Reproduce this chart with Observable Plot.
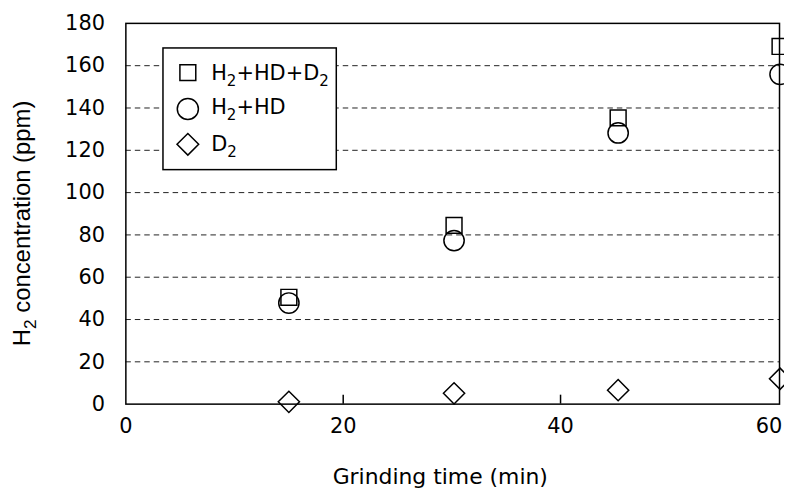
<!DOCTYPE html>
<html><head><meta charset="utf-8">
<script src="https://cdn.jsdelivr.net/npm/d3@7"></script>
<script src="https://cdn.jsdelivr.net/npm/@observablehq/plot@0.6"></script>
<style>
body{margin:0;background:#fff}
#chart{width:784px;height:491px;overflow:hidden}
</style>
</head><body><div id="chart"></div>
<script>
// ---- data ----
const times = [15, 30.2, 45.3, 60.2];
const totalH = [50.5, 84.5, 135.3, 169.1];   // H2+HD+D2
const h2hd = [47.8, 77.3, 128.2, 155.9];     // H2+HD
const d2 = [1.1, 5.1, 6.6, 12.0];            // D2
const seriesNames = ["H₂+HD+D₂", "H₂+HD", "D₂"];
const seriesSymbols = ["square", "circle", "diamond2"];
const yTicks = [0, 20, 40, 60, 80, 100, 120, 140, 160, 180];
const gridValues = [20, 40, 60, 80, 100, 120, 140, 160];
const xTicks = [0, 20, 40, 60];
const xTitle = "Grinding time (min)";
const yTitle = "H₂ concentration (ppm)";

const rows = times.map((t, i) => ({t, total: totalH[i], h2hd: h2hd[i], d2: d2[i]}));

const ink = {stroke: "black", strokeWidth: 1.5, fill: "none"};
const legendDy = [49.5, 86, 121.5];
const legendTextDy = [50, 84, 122];
const legendR = [9, 10.6, 9.8];

const plot = Plot.plot({
  width: 788,
  height: 491,
  marginLeft: 126,
  marginRight: 5,
  marginTop: 23,
  marginBottom: 85.3,
  style: {fontFamily: "DejaVu Sans", fontSize: "21px", background: "white", color: "black"},
  x: {domain: [0, 60.15]},
  y: {domain: [0, 180]},
  marks: [
    Plot.ruleY(gridValues, {stroke: "#222", strokeWidth: 1, strokeDasharray: "5.5,4"}),
    Plot.tickX(xTicks.slice(1, 3), {x: d => d, insetTop: 373.7, stroke: "black", strokeWidth: 1.5}),
    Plot.frame({stroke: "black", strokeWidth: 1.5}),
    Plot.axisY(yTicks, {tickSize: 0, tickPadding: 21, fontSize: 21, label: null}),
    Plot.axisX(xTicks.slice(0, 3), {tickSize: 0, tickPadding: 14, fontSize: 21, label: null}),
    Plot.axisX(xTicks.slice(3), {tickSize: 0, tickPadding: 14, fontSize: 21, label: null, dx: -9}),
    // legend box
    Plot.frame({insetLeft: 37.3, insetRight: 445.5, insetTop: 24.7, insetBottom: 235.7,
                fill: "white", stroke: "black", strokeWidth: 1.5}),
    // data
    Plot.dot(rows, {x: "t", y: "total", symbol: seriesSymbols[0], r: 9, ...ink}),
    Plot.dot(rows, {x: "t", y: "h2hd", symbol: seriesSymbols[1], r: 10.2, ...ink}),
    Plot.dot(rows, {x: "t", y: "d2", symbol: seriesSymbols[2], r: 9.6, ...ink}),
    // legend entries
    ...seriesNames.map((name, i) =>
      Plot.dot([name], {frameAnchor: "top-left", dx: 62.3, dy: legendDy[i],
                        symbol: seriesSymbols[i], r: legendR[i], ...ink})),
    ...seriesNames.map((name, i) =>
      Plot.text([name], {frameAnchor: "top-left", dx: 85.7, dy: legendTextDy[i],
                         text: d => d, textAnchor: "start", lineAnchor: "middle", fontSize: 21, fill: "black"})),
    // axis titles
    Plot.text([yTitle], {frameAnchor: "left", text: d => d, rotate: -90, dx: -104.3, dy: 9.7,
                         textAnchor: "middle", lineAnchor: "middle",
                         fontFamily: "Liberation Sans, Arial, sans-serif", fontSize: 24, fill: "black"}),
    Plot.text([xTitle], {frameAnchor: "bottom", text: d => d, dx: -12.5, dy: 73.3,
                         textAnchor: "middle", lineAnchor: "middle", fontSize: 22, fill: "black"})
  ]
});

// render "₂" as a real subscript "2" in a smaller, lowered tspan
const NS = "http://www.w3.org/2000/svg";
plot.querySelectorAll("text").forEach(t => {
  const s = t.textContent;
  if (!s.includes("₂")) return;
  const parts = s.split("₂");
  t.textContent = "";
  parts.forEach((p, i) => {
    if (p) {
      const ts = document.createElementNS(NS, "tspan");
      if (i > 0) ts.setAttribute("dy", "-0.28em");
      ts.textContent = p;
      t.appendChild(ts);
    } else if (i > 0) {
      // nothing after subscript: no need to shift back
    }
    if (i < parts.length - 1) {
      const sub = document.createElementNS(NS, "tspan");
      sub.setAttribute("font-size", "0.72em");
      sub.setAttribute("dy", "0.39em");
      sub.textContent = "2";
      t.appendChild(sub);
    }
  });
});
document.getElementById("chart").appendChild(plot);
</script>
</body></html>
